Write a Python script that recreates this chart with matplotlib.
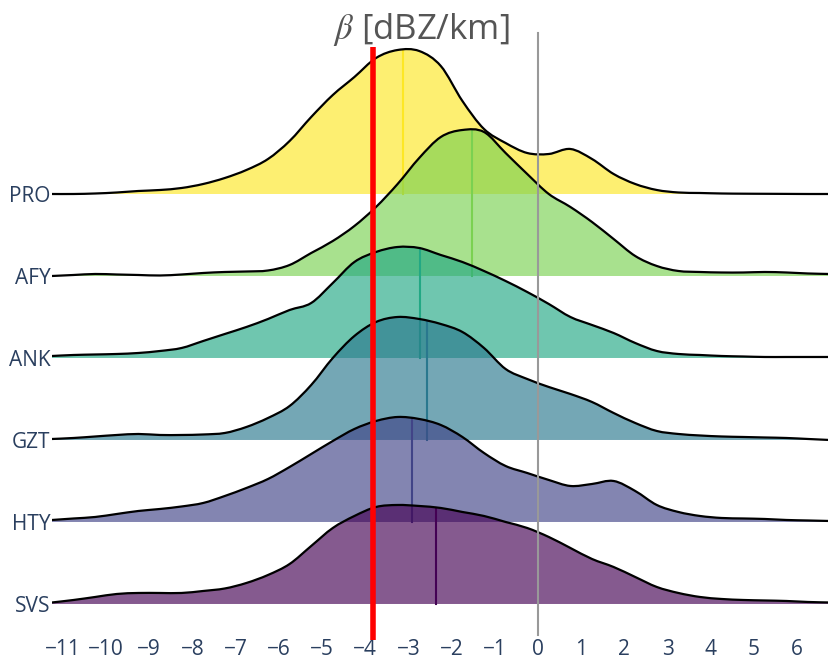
import matplotlib.pyplot as plt
import numpy as np
from matplotlib.path import Path
from matplotlib.patches import PathPatch

plt.rcParams['font.family'] = ['Open Sans', 'DejaVu Sans']
plt.rcParams['mathtext.fontset'] = 'stix'

# stations, top to bottom
stations = ["PRO", "AFY", "ANK", "GZT", "HTY", "SVS"]
colors = ["#fde725", "#7ad151", "#22a884", "#2a788e", "#414487", "#440154"]

# KDE sample positions (beta, dBZ/km)
x_grid = np.linspace(-11.25, 6.75, 37)

# KDE heights (arbitrary units)
dens_pro = [0, 0, 0.5, 1.5, 3, 4, 6, 10, 16, 24, 35, 53, 77, 99, 117, 136, 144, 143,
            128, 93, 65, 51, 41, 40, 45, 35, 20, 10, 4, 1.5, 1, 0.5, 0.3, 0.2, 0.1, 0, 0]
dens_afy = [0, 1, 2, 1.5, 1, 0.5, 1.5, 3, 4, 4.5, 5.5, 11, 23, 35, 50, 69, 92, 118,
            139, 146, 144, 123, 102, 82, 69, 54, 37, 20, 10, 5, 4, 3.5, 3.5, 4, 3.5, 2.5, 2]
dens_ank = [2, 3, 3.5, 4, 5, 7, 10, 17, 24, 31, 39, 48, 55, 75, 96, 106, 111, 110,
            103, 96, 87, 77, 66, 54, 41, 33, 25, 15, 7, 4, 3, 2, 1.5, 1, 1, 1, 1]
dens_gzt = [1, 2, 3.5, 5, 6, 5, 5, 5.5, 7, 13, 22, 34, 55, 82, 104, 118, 123, 121,
            116, 108, 92, 71, 61, 53, 46, 38, 27, 17, 9, 6, 4.5, 3.5, 3, 2.5, 2, 1, 0]
dens_hty = [2, 3.5, 5, 8, 11, 13, 15.5, 19, 26, 34, 43, 55, 68, 81, 93, 101, 105, 103,
            97, 85, 69, 56, 49, 42, 36, 38, 41, 31, 17, 10, 6, 4, 3.5, 3, 2, 1.5, 1]
dens_svs = [1.5, 4, 7, 10, 11, 11, 11, 13, 15.5, 21, 29, 40, 58, 76, 88, 97, 99, 98,
            96, 92, 88, 82, 76, 67, 56, 45, 37, 27, 17, 11, 7, 5, 4, 3.5, 3, 2, 1.5]
densities = [dens_pro, dens_afy, dens_ank, dens_gzt, dens_hty, dens_svs]

medians = [-3.13, -1.53, -2.73, -2.56, -2.92, -2.36]
threshold = -3.82


def spline_path(x, y):
    # smooth curve through the points (Catmull-Rom as cubic Bezier)
    verts = [(x[0], y[0])]
    codes = [Path.MOVETO]
    m = len(x)
    for k in range(m - 1):
        xa, ya = (x[k - 1], y[k - 1]) if k > 0 else (x[k], y[k])
        xb, yb = (x[k + 2], y[k + 2]) if k + 2 < m else (x[k + 1], y[k + 1])
        c1 = (x[k] + (x[k + 1] - xa) / 6, y[k] + (y[k + 1] - ya) / 6)
        c2 = (x[k + 1] - (xb - x[k]) / 6, y[k + 1] - (yb - y[k]) / 6)
        verts += [c1, c2, (x[k + 1], y[k + 1])]
        codes += [Path.CURVE4] * 3
    return verts, codes


fig = plt.figure(figsize=(8.29, 6.6), dpi=100)
ax = fig.add_axes([52 / 829, 32 / 660, 777 / 829, 598 / 660])

scale = 1 / 82
n = len(stations)
for i, (dens, med, col) in enumerate(zip(densities, medians, colors)):
    base = n - 1 - i
    d = np.array(dens) * scale
    verts, codes = spline_path(x_grid, base + d)
    fill = Path(verts + [(x_grid[-1], base), (x_grid[0], base), (x_grid[0], base)],
                codes + [Path.LINETO, Path.LINETO, Path.CLOSEPOLY])
    ax.add_patch(PathPatch(fill, facecolor=col, alpha=0.65, lw=0, zorder=3 * i))
    hm = np.interp(med, x_grid, d)
    ax.plot([med, med], [base, base + hm], color=col, lw=1.5, zorder=3 * i + 1)
    ax.add_patch(PathPatch(Path(verts, codes), fill=False, edgecolor="black",
                           lw=1.6, zorder=3 * i + 2))

ax.plot([0, 0], [-0.38, 6.96], color="#999999", lw=1.5, clip_on=False, zorder=40)
ax.plot([threshold, threshold], [-0.44, 6.79], color="red", lw=4, clip_on=False,
        zorder=41, solid_capstyle="butt")

ax.set_xlim(-11.25, 6.736)
ax.set_ylim(-0.293, 7.0)
ax.set_xticks(range(-11, 7))
ax.set_yticks(range(n))
ax.set_yticklabels(stations[::-1])
ax.tick_params(axis="x", length=0, pad=8, labelsize=15, colors="#2a3f5f")
ax.tick_params(axis="y", length=0, pad=1, labelsize=15, colors="#2a3f5f")
for s in ax.spines.values():
    s.set_visible(False)

fig.text(0.508, 0.955, r"$\beta$ [dBZ/km]", ha="center", va="center",
         fontsize=25, color="#555555")

fig.savefig("out.png", dpi=100)
